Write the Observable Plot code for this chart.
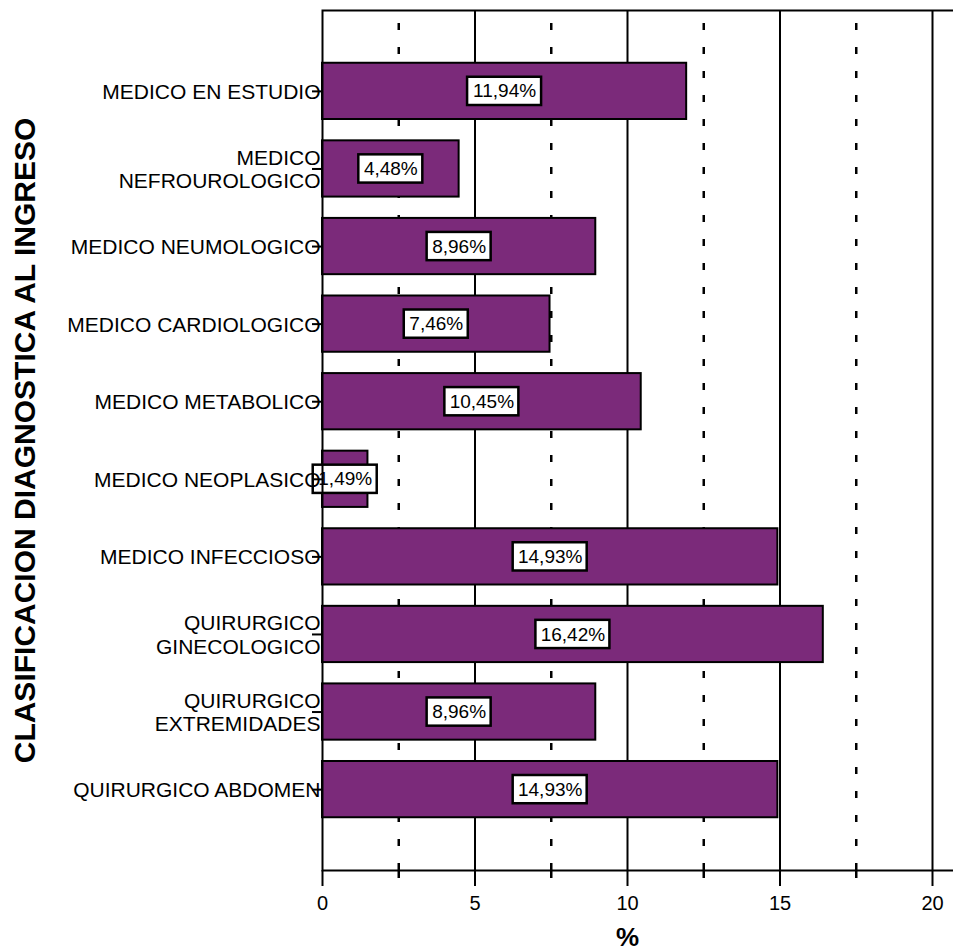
<!DOCTYPE html>
<html>
<head>
<meta charset="utf-8">
<script src="https://cdn.jsdelivr.net/npm/d3@7"></script>
<script src="https://cdn.jsdelivr.net/npm/@observablehq/plot@0.6"></script>
<style>
  body { margin: 0; background: #fff; }
  #chart svg { display: block; }
</style>
</head>
<body>
<div id="chart"></div>
<script>
// Diagnostic classification at admission (share of patients, %)
const categories = [
  "MEDICO EN ESTUDIO",
  "MEDICO\nNEFROUROLOGICO",
  "MEDICO NEUMOLOGICO",
  "MEDICO CARDIOLOGICO",
  "MEDICO METABOLICO",
  "MEDICO NEOPLASICO",
  "MEDICO INFECCIOSO",
  "QUIRURGICO\nGINECOLOGICO",
  "QUIRURGICO\nEXTREMIDADES",
  "QUIRURGICO ABDOMEN"
];
const values = [11.94, 4.48, 8.96, 7.46, 10.45, 1.49, 14.93, 16.42, 8.96, 14.93];
const majorTicks = [0, 5, 10, 15, 20];
const minorTicks = [2.5, 7.5, 12.5, 17.5];
const axisTitleY = "CLASIFICACION DIAGNOSTICA AL INGRESO";
const axisTitleX = "%";

const data = categories.map((cat, i) => ({cat, value: values[i]}));
const fmt = v => v.toFixed(2).replace(".", ",") + "%";
const shortLabels = data.filter(d => fmt(d.value).length <= 5);
const longLabels = data.filter(d => fmt(d.value).length > 5);

const boxStyle = {
  x1: d => d.value / 2,
  x2: d => d.value / 2,
  y: "cat",
  fill: "white",
  stroke: "black",
  strokeWidth: 2.5,
  insetTop: 14,
  insetBottom: 14
};

const chart = Plot.plot({
  width: 953,
  height: 951,
  marginLeft: 322,
  marginRight: 21,
  marginTop: 10,
  marginBottom: 81,
  style: {fontFamily: "'Liberation Sans', Arial, sans-serif", color: "black", background: "white"},
  x: {domain: [0, 20], axis: null},
  y: {domain: categories, paddingInner: 0.275, paddingOuter: 0.68, round: false, axis: null},
  marks: [
    // dashed half-step gridlines
    Plot.ruleX(minorTicks, {stroke: "black", strokeWidth: 2.5, strokeDasharray: "7,17", strokeDashoffset: 11}),
    // solid gridlines
    Plot.ruleX(majorTicks.filter(t => t > 0), {stroke: "black", strokeWidth: 2}),
    // bars
    Plot.barX(data, {x: "value", y: "cat", fill: "#7b2a7a", stroke: "black", strokeWidth: 2}),
    // value label boxes
    Plot.barX(shortLabels, {...boxStyle, insetLeft: -32, insetRight: -32}),
    Plot.barX(longLabels, {...boxStyle, insetLeft: -37, insetRight: -37}),
    Plot.text(data, {x: d => d.value / 2, y: "cat", text: d => fmt(d.value), fontSize: 19, fill: "black"}),
    // frame: left axis, top line and bottom axis line
    Plot.frame({stroke: "black", strokeWidth: 2, insetRight: -25}),
    // x axis
    Plot.axisX(majorTicks, {tickSize: 16, tickPadding: 9, fontSize: 20, strokeWidth: 2, label: null}),
    Plot.axisX(minorTicks, {tickSize: 8, strokeWidth: 2.5, text: null, label: null}),
    // y axis
    Plot.axisY(categories, {tickSize: 10, tickPadding: -8, fontSize: 21, lineHeight: 1.12, strokeWidth: 2, label: null}),
    // axis titles
    Plot.text([axisTitleX], {frameAnchor: "bottom", text: d => d, lineAnchor: "middle", dy: 67, fontSize: 26, fontWeight: "bold"}),
    Plot.text([axisTitleY], {frameAnchor: "left", textAnchor: "middle", text: d => d, rotate: -90, dx: -297, fontSize: 30, fontWeight: "bold"})
  ]
});

document.getElementById("chart").appendChild(chart);
</script>
</body>
</html>
